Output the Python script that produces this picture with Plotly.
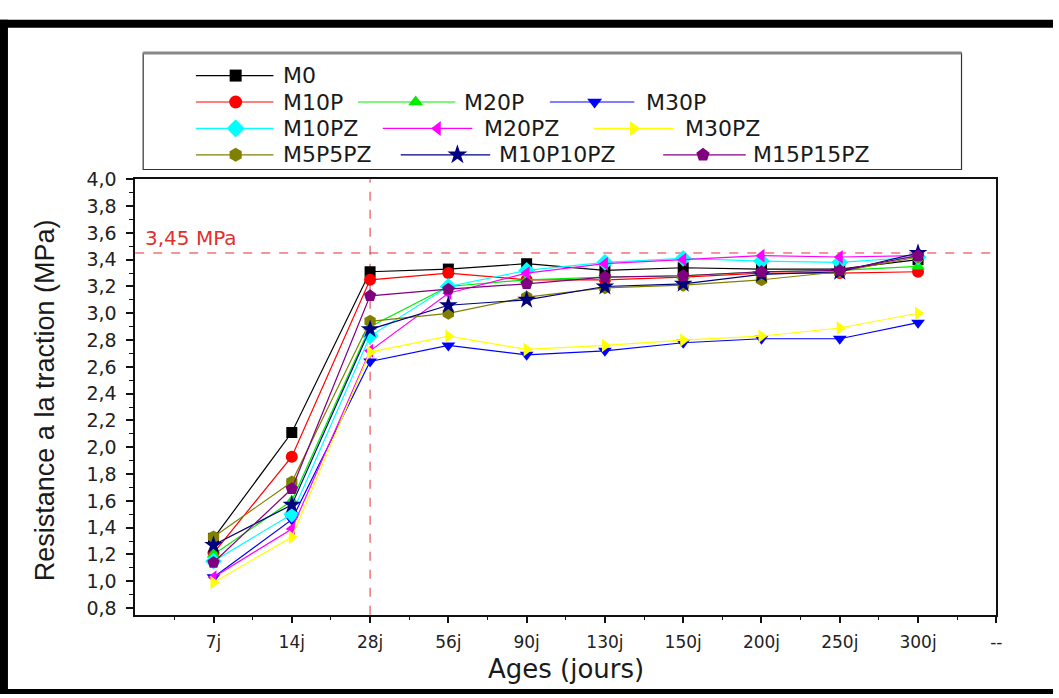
import plotly.graph_objects as go

ages = ["7j", "14j", "28j", "56j", "90j", "130j", "150j", "200j", "250j", "300j"]
tick_labels = ages + ["--"]

M0       = [1.32, 2.11, 3.31, 3.33, 3.37, 3.32, 3.34, 3.33, 3.33, 3.40]
M10P     = [1.21, 1.93, 3.25, 3.30, 3.25, 3.25, 3.27, 3.30, 3.30, 3.31]
M20P     = [1.20, 1.60, 2.90, 3.20, 3.25, 3.27, 3.28, 3.31, 3.32, 3.35]
M30P     = [1.03, 1.46, 2.64, 2.76, 2.69, 2.72, 2.78, 2.81, 2.81, 2.93]
M10PZ    = [1.15, 1.50, 2.83, 3.20, 3.32, 3.38, 3.41, 3.39, 3.38, 3.42]
M20PZ    = [1.03, 1.39, 2.72, 3.15, 3.30, 3.37, 3.40, 3.43, 3.42, 3.43]
M30PZ    = [0.99, 1.33, 2.71, 2.83, 2.73, 2.76, 2.80, 2.83, 2.89, 3.00]
M5P5PZ   = [1.33, 1.74, 2.94, 3.00, 3.12, 3.19, 3.21, 3.25, 3.31, 3.42]
M10P10PZ = [1.27, 1.57, 2.88, 3.06, 3.10, 3.20, 3.22, 3.29, 3.31, 3.45]
M15P15PZ = [1.14, 1.69, 3.13, 3.18, 3.22, 3.27, 3.28, 3.31, 3.32, 3.43]

ref_value = 3.45
ref_age = "28j"

series = [
    ("M0", M0, "#000000", "square", 11),
    ("M10P", M10P, "#ff0000", "circle", 12),
    ("M20P", M20P, "#00ee00", "triangle-up", 12),
    ("M30P", M30P, "#0000ff", "triangle-down", 12),
    ("M10PZ", M10PZ, "#00ffff", "diamond", 13),
    ("M20PZ", M20PZ, "#ff00ff", "triangle-left", 12),
    ("M30PZ", M30PZ, "#ffff00", "triangle-right", 12),
    ("M5P5PZ", M5P5PZ, "#808000", "hexagon", 13),
    ("M10P10PZ", M10P10PZ, "#000080", "star", 14),
    ("M15P15PZ", M15P15PZ, "#800080", "pentagon", 13),
]

W, H = 1059, 698
L, R, T, B = 136, 1002, 172, 617
XR = [-1, 10]
YR = [0.75, 4.0]

xpos = list(range(len(ages)))

fig = go.Figure()
for name, vals, col, sym, sz in series:
    fig.add_trace(go.Scatter(
        x=xpos, y=vals, mode="lines+markers", name=name,
        line=dict(color=col, width=1.2),
        marker=dict(symbol=sym, size=sz, color=col, line=dict(width=0)),
        showlegend=False, cliponaxis=False, xaxis="x", yaxis="y",
    ))

# manual legend layout (pixel positions on a full-figure overlay)
legend_layout = {
    "M0": (197, 275, 237, 283, 66),
    "M10P": (197, 275, 237, 283, 93),
    "M20P": (360, 458, 418, 465, 93),
    "M30P": (553, 638, 598, 648, 93),
    "M10PZ": (197, 275, 237, 283, 120),
    "M20PZ": (385, 475, 440, 485, 120),
    "M30PZ": (597, 677, 637, 687, 120),
    "M5P5PZ": (197, 275, 237, 283, 147),
    "M10P10PZ": (403, 493, 460, 500, 147),
    "M15P15PZ": (667, 750, 707, 755, 147),
}

shapes = []
annotations = []
P = dict(xref="x2", yref="y2")

# frame
shapes.append(dict(type="rect", **P, x0=0, x1=8, y0=9, y1=698, fillcolor="black", line=dict(width=0), layer="above"))
shapes.append(dict(type="rect", **P, x0=0, x1=1059, y0=9, y1=17, fillcolor="black", line=dict(width=0), layer="above"))
shapes.append(dict(type="rect", **P, x0=0, x1=1059, y0=693, y1=698, fillcolor="black", line=dict(width=0), layer="above"))

# legend box
shapes.append(dict(type="rect", **P, x0=144, x1=967, y0=43, y1=162, fillcolor="white",
                   line=dict(color="#333333", width=1.2), layer="below"))
shapes.append(dict(type="line", **P, x0=144, x1=967, y0=43, y1=43, line=dict(color="#888888", width=3), layer="below"))

for name, vals, col, sym, sz in series:
    x0, x1, xm, xt, yy = legend_layout[name]
    shapes.append(dict(type="line", **P, x0=x0, x1=x1, y0=yy, y1=yy, line=dict(color=col, width=1.2), layer="below"))
    fig.add_trace(go.Scatter(x=[xm], y=[yy], mode="markers", xaxis="x2", yaxis="y2",
                             marker=dict(symbol=sym, size=sz + 1, color=col, line=dict(width=0)),
                             showlegend=False, cliponaxis=False, hoverinfo="skip"))
    annotations.append(dict(**P, x=xt, y=yy, text=name, showarrow=False, xanchor="left", yanchor="middle",
                            font=dict(family="DejaVu Sans", size=22, color="#1a1a1a")))

# reference lines
xi = ages.index(ref_age)
shapes.append(dict(type="line", xref="x", yref="y domain", x0=xi, x1=xi, y0=0, y1=1,
                   line=dict(color="#e03030", width=1, dash="dash"), layer="below"))
shapes.append(dict(type="line", xref="x domain", yref="y", x0=0, x1=1, y0=ref_value, y1=ref_value,
                   line=dict(color="#e03030", width=1, dash="dash"), layer="below"))
annotations.append(dict(**P, x=144, y=232, text="3,45 MPa", showarrow=False, xanchor="left", yanchor="middle",
                        font=dict(family="DejaVu Sans", size=20, color="#e03030")))

# axis titles
annotations.append(dict(**P, x=569, y=672, text="Ages (jours)", showarrow=False, xanchor="center", yanchor="middle",
                        font=dict(family="DejaVu Sans", size=26, color="#1a1a1a")))
annotations.append(dict(**P, x=46, y=398, text="Resistance a la traction (MPa)", showarrow=False,
                        xanchor="center", yanchor="middle", textangle=-90,
                        font=dict(family="Liberation Sans", size=27, color="#1a1a1a")))

fig.update_layout(
    width=W, height=H,
    margin=dict(l=0, r=0, t=0, b=0, pad=0),
    paper_bgcolor="white", plot_bgcolor="rgba(0,0,0,0)",
    separators=",.",
    shapes=shapes, annotations=annotations,
    showlegend=False,
    xaxis=dict(
        domain=[L / W, R / W], anchor="y",
        range=XR, tickmode="array", tickvals=list(range(len(tick_labels))), ticktext=tick_labels,
        showgrid=False, zeroline=False, showline=True, linecolor="#111111", linewidth=1.5, mirror=True,
        ticks="outside", ticklen=7, tickwidth=1.5, tickcolor="#111111", ticklabelstandoff=4,
        minor=dict(tickvals=[i + 0.5 for i in range(-1, 10)], ticks="outside", ticklen=4, tickwidth=1.2,
                   tickcolor="#111111"),
        tickfont=dict(family="DejaVu Sans", size=17, color="#222222"),
    ),
    yaxis=dict(
        domain=[1 - B / H, 1 - T / H], anchor="x",
        range=YR, tick0=0.8, dtick=0.2, tickformat=".1f",
        showgrid=False, zeroline=False, showline=True, linecolor="#111111", linewidth=1.5, mirror=True,
        ticks="outside", ticklen=7, tickwidth=1.5, tickcolor="#111111", ticklabelstandoff=6,
        minor=dict(dtick=0.1, tick0=0.8, ticks="outside", ticklen=4, tickwidth=1.2, tickcolor="#111111"),
        tickfont=dict(family="DejaVu Sans", size=19, color="#222222"),
    ),
    xaxis2=dict(domain=[0, 1], range=[0, W], anchor="y2", visible=False, fixedrange=True),
    yaxis2=dict(domain=[0, 1], range=[H, 0], anchor="x2", visible=False, fixedrange=True),
)

fig.write_html("out.html", config={"displayModeBar": False},
               post_script="document.body.style.margin='0';document.body.style.overflow='hidden';")
